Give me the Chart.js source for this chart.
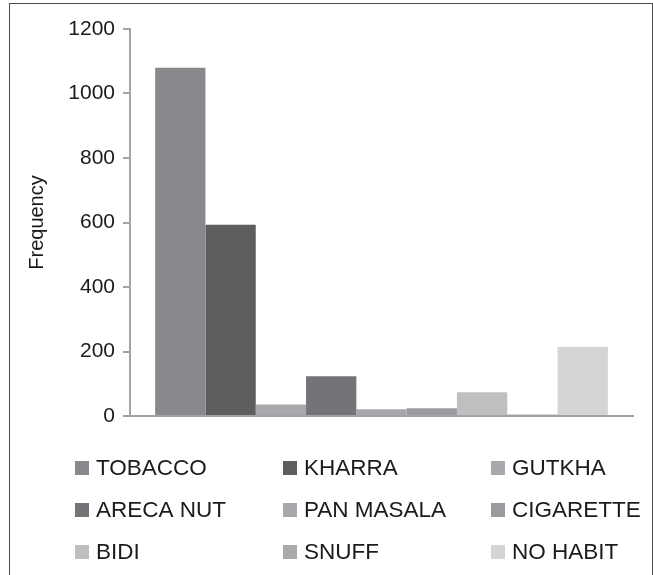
<!DOCTYPE html>
<html>
<head>
<meta charset="utf-8">
<script src="https://cdn.jsdelivr.net/npm/chart.js@4.4.1/dist/chart.umd.min.js"></script>
<style>
    html, body { margin: 0; padding: 0; background: #ffffff; }
    #frame {
        position: absolute; left: 9px; top: 3px; width: 642px; height: 600px;
        border: 1.5px solid #4d4d4d; border-bottom: none;
    }
    #wrap { position: absolute; left: 0; top: 0; width: 653px; height: 575px; }
</style>
</head>
<body>
<div id="frame"></div>
<div id="wrap"><canvas id="bar-chart" width="653" height="575"></canvas></div>
<script>
// dữ liệu
const habits = ["TOBACCO", "KHARRA", "GUTKHA", "ARECA NUT", "PAN MASALA", "CIGARETTE", "BIDI", "SNUFF", "NO HABIT"];
const frequency = [1080, 593, 36, 123, 21, 24, 74, 5, 214];
const habitColors = ["#88898c", "#5e5e60", "#a8a9ac", "#737477", "#a7a8ab", "#9a9b9e", "#bebfc1", "#a9aaad", "#d3d4d6"];
const yTicks = [0, 200, 400, 600, 800, 1000, 1200];

const axisGray = "#a3a3a3";
const textColor = "#1c1a1b";

// legend dạng lưới 3 cột
const gridLegend = {
    id: "gridLegend",
    afterDraw: function (chart) {
        const ctx = chart.ctx;
        const colX = [75, 283, 491];
        const rowY = [468, 510, 552];
        ctx.save();
        ctx.font = "22.5px 'Liberation Sans', Arial, sans-serif";
        ctx.textBaseline = "middle";
        ctx.textAlign = "left";
        chart.data.datasets.forEach((ds, i) => {
            let x = colX[i % 3];
            let y = rowY[Math.floor(i / 3)];
            ctx.fillStyle = ds.backgroundColor;
            ctx.fillRect(x, y - 7, 14, 14);
            ctx.fillStyle = textColor;
            ctx.fillText(ds.label, x + 21, y + 1);
        });
        ctx.restore();
    }
};

new Chart(document.getElementById("bar-chart"), {
    type: "bar",
    data: {
        labels: [""],
        datasets: habits.map((name, i) => ({
            label: name,
            data: [frequency[i]],
            backgroundColor: habitColors[i],
            borderWidth: 0,
            categoryPercentage: 0.9,
            barPercentage: 1.0,
        })),
    },
    options: {
        responsive: false,
        animation: false,
        layout: {
            padding: { left: 0, right: 20, top: 29, bottom: 159 },
        },
        plugins: {
            legend: { display: false },
            tooltip: { enabled: false },
        },
        scales: {
            x: {
                grid: { display: false, drawTicks: false },
                ticks: { display: false },
                border: { display: true, color: axisGray, width: 2 },
                afterFit: function (scale) { scale.height = 0; },
            },
            y: {
                min: 0,
                max: 1200,
                afterBuildTicks: function (scale) {
                    scale.ticks = yTicks.map((v) => ({ value: v }));
                },
                afterFit: function (scale) { scale.width = 130; },
                grid: { drawOnChartArea: false, drawTicks: true, tickLength: 7, color: axisGray, lineWidth: 2 },
                border: { display: true, color: axisGray, width: 2 },
                ticks: {
                    padding: 8,
                    color: textColor,
                    font: { family: "'Liberation Sans', Arial, sans-serif", size: 21 },
                    callback: function (value) {
                        return String(value);
                    },
                },
                title: {
                    display: true,
                    text: "Frequency",
                    color: textColor,
                    padding: { top: 25, bottom: 0 },
                    font: { family: "'Liberation Sans', Arial, sans-serif", size: 20 },
                },
            },
        },
    },
    plugins: [gridLegend],
});
</script>
</body>
</html>
